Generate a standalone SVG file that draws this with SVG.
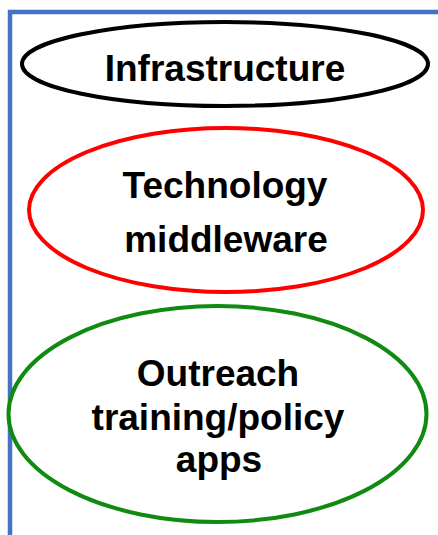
<svg xmlns="http://www.w3.org/2000/svg" width="438" height="535" viewBox="0 0 438 535">
<style>
text{font-family:"Liberation Sans",Arial,sans-serif;font-weight:bold;font-size:37px;fill:#000;text-anchor:middle}
ellipse{fill:#fff}
</style>
<rect width="438" height="535" fill="#fff"/>
<g id="frame"><path d="M10,535 V12 H438" fill="none" stroke="#4472C4" stroke-width="4.5"/></g>
<g id="infrastructure">
<ellipse cx="225" cy="64" rx="203" ry="42" stroke="#000" stroke-width="4"/>
<text x="225" y="81">Infrastructure</text>
</g>
<g id="technology">
<ellipse cx="226" cy="210" rx="197" ry="82" stroke="#FF0000" stroke-width="4"/>
<text x="225" y="198">Technology</text>
<text x="226" y="252">middleware</text>
</g>
<g id="outreach">
<ellipse cx="217.5" cy="414" rx="209" ry="108" stroke="#108A10" stroke-width="4"/>
<text x="218" y="386">Outreach</text>
<text x="218" y="430">training/policy</text>
<text x="219" y="472">apps</text>
</g>
<g id="connectors"/>
</svg>
